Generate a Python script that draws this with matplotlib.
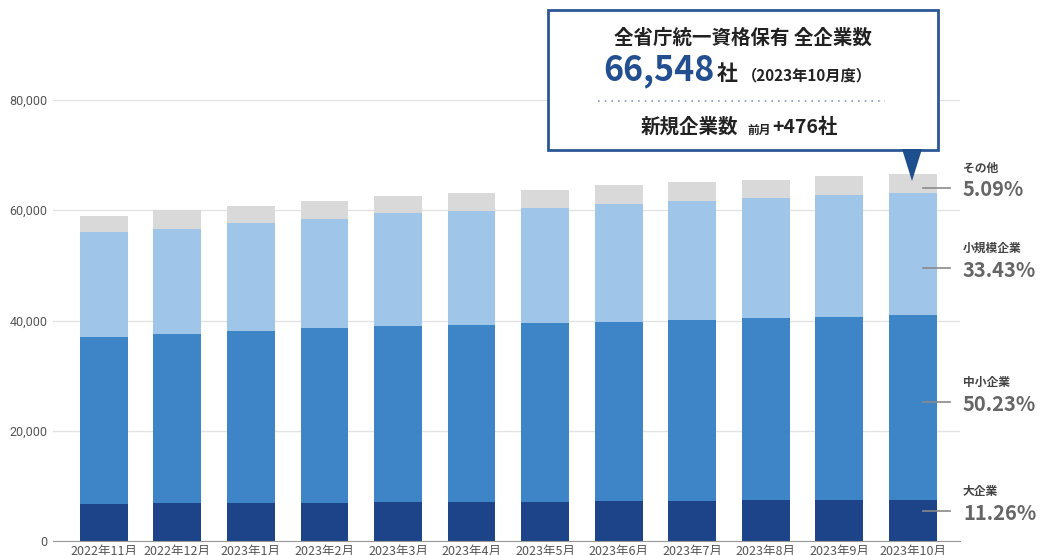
"""Stacked bar chart: companies holding unified qualification, by size."""

import matplotlib

matplotlib.use("Agg")
import matplotlib.pyplot as plt
from matplotlib.patches import Polygon, Rectangle
from matplotlib.ticker import FuncFormatter

plt.rcParams["font.family"] = ["Noto Sans CJK JP", "DejaVu Sans"]

# Data (cumulative tops converted to segments)
months = [
    "2022年11月", "2022年12月", "2023年1月", "2023年2月", "2023年3月", "2023年4月",
    "2023年5月", "2023年6月", "2023年7月", "2023年8月", "2023年9月", "2023年10月",
]
large = [6700, 6900, 6900, 6900, 7000, 7000, 7000, 7200, 7200, 7400, 7400, 7493]
medium = [30300, 30700, 31200, 31800, 32000, 32200, 32600, 32500, 32900, 33100, 33300, 33427]
small = [19100, 19000, 19600, 19700, 20500, 20700, 20800, 21500, 21600, 21800, 22100, 22241]
other = [2900, 3400, 3100, 3300, 3100, 3300, 3300, 3400, 3500, 3200, 3400, 3387]

series_labels = ["大企業", "中小企業", "小規模企業", "その他"]
series_pct = ["11.26%", "50.23%", "33.43%", "5.09%"]
colors = ["#1d4488", "#3d85c6", "#9fc5e8", "#d9d9d9"]

total_latest = "66,548"
new_latest = "+476社"

fig = plt.figure(figsize=(10.41, 5.55), dpi=100)
ax = fig.add_axes([53 / 1041, 14 / 555, (960 - 53) / 1041, (541 - 100) / 555])

x = list(range(len(months)))
bottom = [0] * len(months)
for vals, col in zip([large, medium, small, other], colors):
    ax.bar(x, vals, bottom=bottom, width=0.65, color=col, zorder=2)
    bottom = [b + v for b, v in zip(bottom, vals)]

ax.set_xlim(-0.69, 11.64)
ax.set_ylim(0, 80000)
ax.set_yticks([0, 20000, 40000, 60000, 80000])
ax.yaxis.set_major_formatter(FuncFormatter(lambda v, _: f"{int(v):,}"))
ax.set_xticks(x)
ax.set_xticklabels(months)
ax.grid(axis="y", color="#e3e3e3", lw=1, zorder=0)
for s in ["top", "right", "left"]:
    ax.spines[s].set_visible(False)
ax.spines["bottom"].set_color("#9a9a9a")
ax.tick_params(axis="both", length=0, colors="#555555", labelsize=9)
ax.tick_params(axis="x", pad=3)
ax.tick_params(axis="y", pad=4)
for lbl in ax.get_yticklabels():
    lbl.set_family(["Roboto", "DejaVu Sans"])

# Right-side labels for latest month
label_y = [5400, 25200, 49500, 64100]
last = len(months) - 1
for yv, name, pct in zip(label_y, series_labels, series_pct):
    ax.plot([last + 0.14, last + 0.5], [yv, yv], color="#8a8a8a", lw=1.2,
            clip_on=False, zorder=3)
    ax.annotate(name, (last + 0.68, yv), textcoords="offset pixels", xytext=(0, 13),
                annotation_clip=False, fontsize=8.5, color="#444444",
                ha="left", va="bottom", fontweight="bold")
    ax.annotate(pct, (last + 0.68, yv), textcoords="offset pixels", xytext=(0, -2),
                annotation_clip=False, fontsize=14.5, color="#666666",
                ha="left", va="center", fontweight="bold")

# Callout box drawn in pixel coordinates
ov = fig.add_axes([0, 0, 1, 1], facecolor="none")
ov.set_xlim(0, 1041)
ov.set_ylim(555, 0)
ov.axis("off")
ov.add_patch(Rectangle((548, 10), 390, 140, facecolor="white",
                       edgecolor="#2b5797", lw=2, zorder=5))
ov.add_patch(Polygon([(902, 149), (922, 149), (912, 181)], closed=True,
                     facecolor="#1f4e8c", edgecolor="none", zorder=6))
ov.text(743, 38, "全省庁統一資格保有 全企業数", ha="center", va="center",
        fontsize=14, fontweight="bold", color="#222222", zorder=7)
ov.text(715, 71, total_latest, ha="right", va="center", fontsize=24.5,
        fontweight="bold", color="#234f91", zorder=7)
ov.text(717, 74, "社", ha="left", va="center", fontsize=15,
        fontweight="bold", color="#222222", zorder=7)
ov.text(742, 75, "（2023年10月度）", ha="left", va="center", fontsize=11,
        fontweight="bold", color="#222222", zorder=7)
ov.plot([598, 885], [101, 101], color="#8a9bb0", lw=1.2, ls=(0, (1, 3)), zorder=7)
ov.text(738, 127, "新規企業数", ha="right", va="center", fontsize=14,
        fontweight="bold", color="#222222", zorder=7)
ov.text(747, 130, "前月", ha="left", va="center", fontsize=8.5,
        fontweight="bold", color="#222222", zorder=7)
ov.text(772, 127, new_latest, ha="left", va="center", fontsize=14,
        fontweight="bold", color="#222222", zorder=7)

fig.savefig("out.png", dpi=100)
